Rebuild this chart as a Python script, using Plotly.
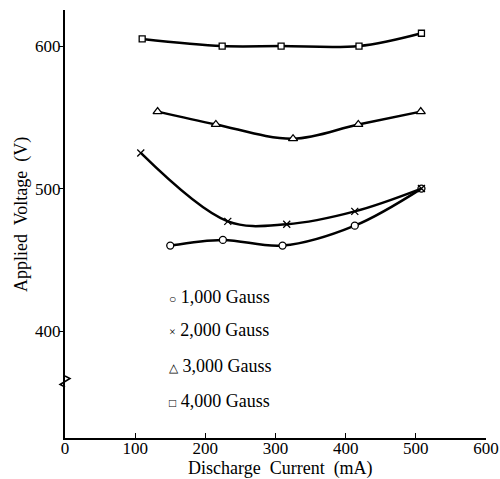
import plotly.graph_objects as go

# Data (Discharge current mA, applied voltage V)
g1000_x = [150, 225, 310, 413, 508]
g1000_y = [460, 464, 460, 474, 500]
g2000_x = [108, 232, 316, 413, 508]
g2000_y = [525, 477, 475, 484, 500]
g3000_x = [132, 215, 325, 418, 507]
g3000_y = [554, 545, 535, 545, 554]
g4000_x = [110, 224, 308, 419, 508]
g4000_y = [605, 600, 600, 600, 609]

x_ticks = [0, 100, 200, 300, 400, 500, 600]
y_ticks = [400, 500, 600]
legend_symbols = ["○", "×", "△", "□"]
legend_labels = ["1,000 Gauss", "2,000 Gauss", "3,000 Gauss", "4,000 Gauss"]

FONT = "Liberation Serif, Times New Roman, serif"

W, H = 500, 479
L, T = 65, 10
R = W - 486
B = H - 438
PW, PH = W - L - R, H - T - B

def px_x(p):  # page pixel -> paper
    return (p - L) / PW

def px_y(p):
    return 1 - (p - T) / PH

series = [
    (g1000_x, g1000_y, dict(symbol="circle", size=7)),
    (g2000_x, g2000_y, dict(symbol="x-thin", size=7)),
    (g3000_x, g3000_y, dict(symbol="triangle-up", size=8)),
    (g4000_x, g4000_y, dict(symbol="square", size=6)),
]

fig = go.Figure()
for xs, ys, m in series:
    fig.add_trace(go.Scatter(
        x=xs, y=ys, mode="lines+markers",
        line=dict(color="black", width=2.5, shape="spline", smoothing=1.0),
        marker=dict(symbol=m["symbol"], size=m["size"], color="white",
                    line=dict(color="black", width=1.3)),
        showlegend=False,
    ))

# legend as text annotations
legend_y = [297, 330, 366, 401]
for sym, lbl, py in zip(legend_symbols, legend_labels, legend_y):
    fig.add_annotation(
        x=px_x(167), y=px_y(py), xref="paper", yref="paper",
        text=f"<span style='font-size:12px'>{sym}</span> {lbl}",
        showarrow=False, xanchor="left", yanchor="middle",
        font=dict(family=FONT, size=18, color="black"),
    )

# axis titles
fig.add_annotation(x=px_x(280), y=px_y(468), xref="paper", yref="paper",
                   text="Discharge  Current  (mA)", showarrow=False,
                   xanchor="center", yanchor="middle",
                   font=dict(family=FONT, size=18, color="black"))
fig.add_annotation(x=px_x(21), y=px_y(215), xref="paper", yref="paper",
                   text="Applied  Voltage  (V)", showarrow=False, textangle=-90,
                   xanchor="center", yanchor="middle",
                   font=dict(family=FONT, size=18, color="black"))

# axis break squiggle (paper x so it is not clipped)
d = 5 / PW
top, bot = px_y(376), px_y(387)
mid = (top + bot) / 2
fig.add_shape(type="path",
              path=(f"M 0,{top} L {d},{top - (top - mid) * 0.45} L 0,{mid} "
                    f"L {-d},{mid - (mid - bot) * 0.55} L 0,{bot}"),
              xref="paper", yref="paper",
              line=dict(color="black", width=1.5), layer="above")

fig.update_layout(
    width=W, height=H,
    margin=dict(l=L, r=R, t=T, b=B),
    paper_bgcolor="white", plot_bgcolor="white",
    font=dict(family=FONT, size=17, color="black"),
    xaxis=dict(range=[0, 600], tickvals=x_ticks, ticks="inside", ticklen=5,
               tickcolor="black", showline=True, linecolor="black", linewidth=2,
               showgrid=False, zeroline=False, automargin=False,
               ticklabelstandoff=-6,
               tickfont=dict(family=FONT, size=17)),
    yaxis=dict(range=[325, 625.3], tickvals=y_ticks, ticks="outside", ticklen=4,
               tickcolor="black", showline=True, linecolor="black", linewidth=2,
               showgrid=False, zeroline=False, automargin=False,
               ticklabelstandoff=-5,
               tickfont=dict(family=FONT, size=17)),
)

fig.write_html(
    "out.html",
    config={"displayModeBar": False},
    post_script=("document.documentElement.style.margin='0';"
                 "document.documentElement.style.overflow='hidden';"
                 "document.body.style.margin='0';"
                 "document.body.style.overflow='hidden';"),
)
